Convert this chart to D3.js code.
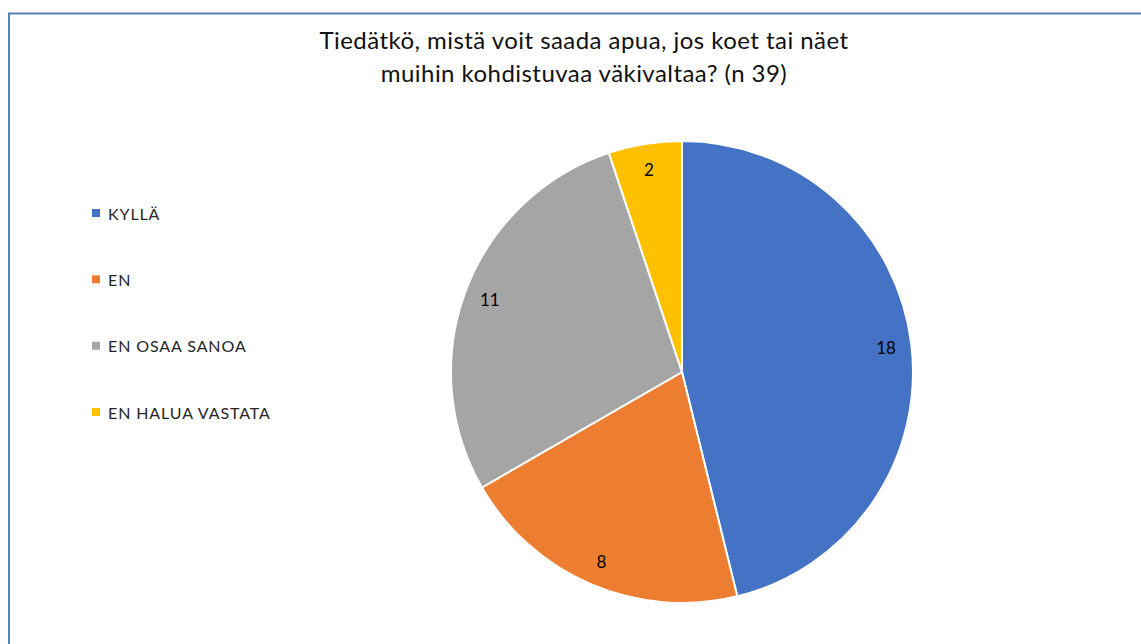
<!DOCTYPE html>
<html lang="fi">
<head>
    <meta charset="UTF-8">
    <title>Tiedätkö, mistä voit saada apua</title>
    <script src="https://d3js.org/d3.v7.min.js"></script>
    <style>
        body { margin: 0; background: #fff; font-family: Lato, "Liberation Sans", sans-serif; }
        .label { font-size: 17px; fill: #000; text-anchor: middle; dominant-baseline: central; }
        .legend-text { font-size: 16px; fill: #262626; dominant-baseline: central; letter-spacing: 0.9px; }
        .title { font-size: 24px; fill: #111; text-anchor: middle; letter-spacing: 0.45px; }
    </style>
</head>
<body>
<div id="chart"></div>
<script>
    // data
    const categories = ["KYLLÄ", "EN", "EN OSAA SANOA", "EN HALUA VASTATA"];
    const values = [18, 8, 11, 2];
    const colors = ["#4472c4", "#ed7d31", "#a5a5a5", "#ffc000"];
    const titleLines = ["Tiedätkö, mistä voit saada apua, jos koet tai näet",
                        "muihin kohdistuvaa väkivaltaa? (n 39)"];

    const width = 1141, height = 644;
    const cx = 682, cy = 372, radius = 231;

    const svg = d3.select("#chart").append("svg")
        .attr("width", width)
        .attr("height", height);

    // outer frame
    svg.append("rect")
        .attr("x", 9).attr("y", 13.5)
        .attr("width", width).attr("height", height)
        .attr("fill", "none")
        .attr("stroke", "#5b7fb8")
        .attr("stroke-width", 2);

    svg.selectAll("text.title")
        .data(titleLines)
        .enter().append("text")
        .attr("class", "title")
        .attr("x", 584)
        .attr("y", (d, i) => 49 + i * 33)
        .text(d => d);

    const pie = d3.pie().sort(null).value(d => d);
    const arcs = pie(values);

    const arc = d3.arc().innerRadius(0).outerRadius(radius);
    const labelArc = d3.arc().innerRadius(radius * 0.89).outerRadius(radius * 0.89);

    const g = svg.append("g").attr("transform", "translate(" + cx + "," + cy + ")");

    g.selectAll("path")
        .data(arcs)
        .enter().append("path")
        .attr("d", arc)
        .attr("fill", (d, i) => colors[i])
        .attr("stroke", "#fff")
        .attr("stroke-width", 2);

    g.selectAll("text.label")
        .data(arcs)
        .enter().append("text")
        .attr("class", "label")
        .attr("transform", d => "translate(" + labelArc.centroid(d) + ")")
        .text(d => d.data);

    // legend
    const legendY = d3.scalePoint().domain(categories).range([213, 412]);
    const legend = svg.selectAll("g.legend")
        .data(categories)
        .enter().append("g")
        .attr("class", "legend")
        .attr("transform", d => "translate(92," + legendY(d) + ")");

    legend.append("rect")
        .attr("x", 0).attr("y", -4)
        .attr("width", 8).attr("height", 8)
        .attr("fill", (d, i) => colors[i]);

    legend.append("text")
        .attr("class", "legend-text")
        .attr("x", 16)
        .attr("y", 0)
        .text(d => d);
</script>
</body>
</html>
